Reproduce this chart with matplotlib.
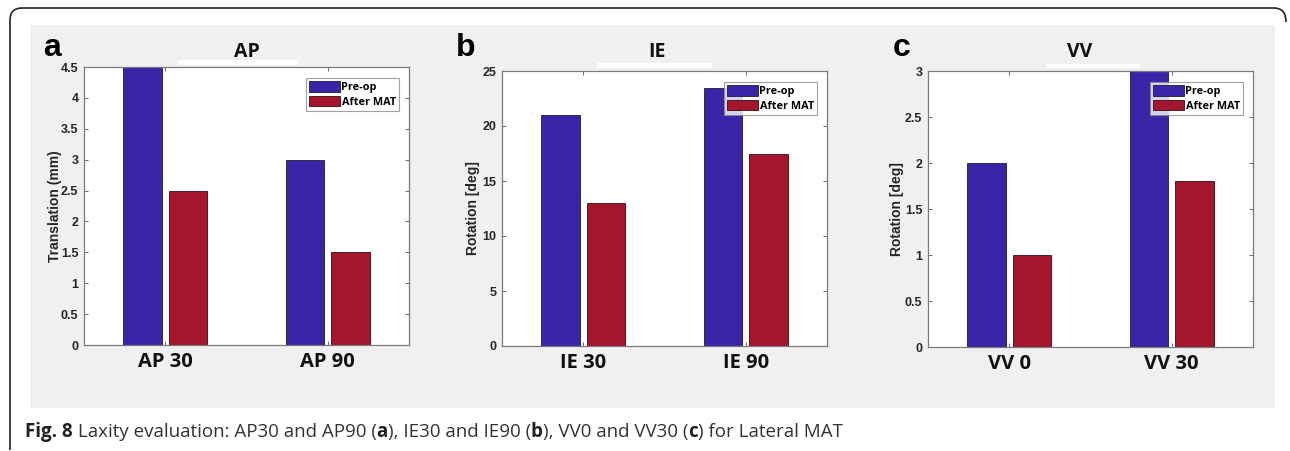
import matplotlib
matplotlib.use("Agg")
import matplotlib.pyplot as plt
from matplotlib.patches import Rectangle, PathPatch
from matplotlib.path import Path
import numpy as np

# ---------------- data ----------------
series_names = ["Pre-op", "After MAT"]
panel_letters = ["a", "b", "c"]
panel_titles = ["AP", "IE", "VV"]
categories_a = ["AP 30", "AP 90"]
categories_b = ["IE 30", "IE 90"]
categories_c = ["VV 0", "VV 30"]
preop_a = [4.5, 3.0]
after_a = [2.5, 1.5]
preop_b = [21.0, 23.5]
after_b = [13.0, 17.5]
preop_c = [2.0, 3.0]
after_c = [1.0, 1.8]
yticks_a = [0, 0.5, 1, 1.5, 2, 2.5, 3, 3.5, 4, 4.5]
yticks_b = [0, 5, 10, 15, 20, 25]
yticks_c = [0, 0.5, 1, 1.5, 2, 2.5, 3]
ylabels = ["Translation (mm)", "Rotation [deg]", "Rotation [deg]"]
caption_parts = [("Fig. 8", True), (" Laxity evaluation: AP30 and AP90 (", False), ("a", True),
                 ("), IE30 and IE90 (", False), ("b", True), ("), VV0 and VV30 (", False),
                 ("c", True), (") for Lateral MAT", False)]

BLUE = "#3B24A8"
RED = "#A4152E"

W, H = 1290, 451
fig = plt.figure(figsize=(W / 100, H / 100), dpi=100)
fig.patch.set_facecolor("white")

def fx(px):
    return px / W

def fy(py):
    return 1 - py / H

# gray panel background
fig.patches.append(Rectangle((fx(30), fy(408)), fx(1275) - fx(30), fy(25) - fy(408),
                             transform=fig.transFigure, facecolor="#F0F0F0", edgecolor="none",
                             zorder=-2))

# rounded border (top + left side)
r = 12
verts = [(1286, 22), (1286, 8), (1286 - r, 8), (10 + r, 8), (10, 8), (10, 8 + r), (10, 450)]
codes = [Path.MOVETO, Path.CURVE3, Path.CURVE3, Path.LINETO, Path.CURVE3, Path.CURVE3, Path.LINETO]
verts_f = [(fx(x), fy(y)) for x, y in verts]
fig.patches.append(PathPatch(Path(verts_f, codes), transform=fig.transFigure, facecolor="none",
                             edgecolor="#222222", linewidth=1.2, zorder=-1))

panels = [
    dict(left=84, right=409, top=67, bottom=345, cats=categories_a, pre=preop_a, post=after_a,
         yt=yticks_a, ylab=ylabels[0], ylabx=55, title_x=247, letter_x=43,
         band=(178, 298, 60, 65), leg=(399, 78)),
    dict(left=502, right=827, top=71, bottom=346, cats=categories_b, pre=preop_b, post=after_b,
         yt=yticks_b, ylab=ylabels[1], ylabx=473, title_x=657, letter_x=456,
         band=(597, 712, 63, 68), leg=(817, 82)),
    dict(left=928, right=1253, top=71, bottom=347, cats=categories_c, pre=preop_c, post=after_c,
         yt=yticks_c, ylab=ylabels[2], ylabx=897, title_x=1080, letter_x=893,
         band=(1047, 1140, 64, 68), leg=(1243, 82)),
]

bw = 0.235
off = 0.14
for i, p in enumerate(panels):
    ax = fig.add_axes([fx(p["left"]), fy(p["bottom"]), fx(p["right"]) - fx(p["left"]),
                       fy(p["top"]) - fy(p["bottom"])])
    ax.set_facecolor("white")
    x = np.arange(1, len(p["cats"]) + 1)
    ax.bar(x - off, p["pre"], width=bw, color=BLUE, edgecolor="#1a1a40", linewidth=0.6,
           label=series_names[0])
    ax.bar(x + off, p["post"], width=bw, color=RED, edgecolor="#3a0a10", linewidth=0.6,
           label=series_names[1])
    ax.set_xlim(0.5, len(p["cats"]) + 0.5)
    ax.set_ylim(p["yt"][0], p["yt"][-1])
    ax.set_yticks(p["yt"])
    ax.set_yticklabels([("%g" % v) for v in p["yt"]], fontsize=9, fontweight="bold",
                       family="Liberation Sans", color="#262626")
    ax.set_xticks(x)
    ax.set_xticklabels(p["cats"], fontsize=14.5, fontweight="bold", family="Open Sans",
                       color="#111111")
    ax.tick_params(axis="y", direction="in", length=3, width=0.6, color="#555555",
                   right=True, left=True, pad=4)
    ax.tick_params(axis="x", direction="in", length=3, width=0.6, color="#555555",
                   top=True, bottom=True, pad=5)
    for s in ax.spines.values():
        s.set_color("#7a7a7a")
        s.set_linewidth(0.9)
    fig.text(fx(p["ylabx"]), (fy(p["top"]) + fy(p["bottom"])) / 2, p["ylab"], rotation=90,
             ha="center", va="center", fontsize=10, fontweight="bold", family="Liberation Sans",
             color="#262626")
    # white band under title
    bx0, bx1, by0, by1 = p["band"]
    fig.patches.append(Rectangle((fx(bx0), fy(by1)), fx(bx1) - fx(bx0), fy(by0) - fy(by1),
                                 transform=fig.transFigure, facecolor="white", edgecolor="none",
                                 zorder=-1))
    fig.text(fx(p["title_x"]), fy(52), panel_titles[i], ha="center", va="center", fontsize=14,
             fontweight="bold", family="Open Sans", color="#111111")
    fig.text(fx(p["letter_x"]), fy(56), panel_letters[i], ha="left", va="baseline", fontsize=23,
             fontweight="bold", family="Liberation Sans", color="black")
    lx, ly = p["leg"]
    leg = ax.legend(loc="upper right", bbox_to_anchor=(fx(lx), fy(ly)),
                    bbox_transform=fig.transFigure, frameon=True, fancybox=False,
                    borderaxespad=0, borderpad=0.3, labelspacing=0.25, handlelength=2.9,
                    handleheight=1.1, handletextpad=0.1,
                    prop=dict(family="Open Sans", weight="bold", size=7.8))
    leg.get_frame().set_edgecolor("#8a8a8a")
    leg.get_frame().set_linewidth(0.8)

# caption
fig.canvas.draw()
renderer = fig.canvas.get_renderer()
xpos = 25
for txt, bold in caption_parts:
    t = fig.text(fx(xpos), fy(437), txt, ha="left", va="baseline", fontsize=13.5,
                 family="Open Sans", fontweight="bold" if bold else "normal",
                 color="#222222" if bold else "#333333")
    bb = t.get_window_extent(renderer=renderer)
    xpos += bb.width

fig.savefig("out.png", dpi=100, facecolor=fig.get_facecolor())
